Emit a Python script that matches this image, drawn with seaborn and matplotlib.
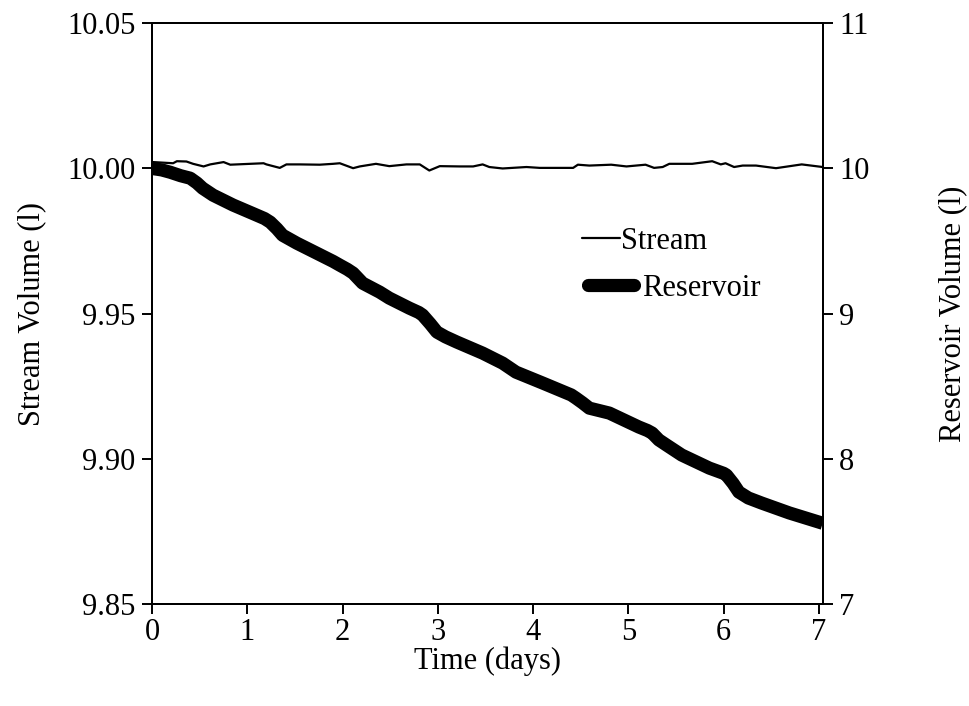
import matplotlib
matplotlib.use("Agg")
import matplotlib.pyplot as plt
import seaborn as sns
import pandas as pd
from matplotlib.lines import Line2D

# ---- data ----
stream_time = [0.00, 0.01, 0.22, 0.26, 0.36, 0.43, 0.54, 0.61, 0.75, 0.82, 1.03, 1.17, 1.20,
               1.34, 1.41, 1.55, 1.76, 1.90, 1.97, 2.11, 2.18, 2.35, 2.49, 2.67, 2.81, 2.91,
               3.02, 3.23, 3.37, 3.47, 3.54, 3.68, 3.93, 4.07, 4.42, 4.47, 4.59, 4.82, 4.98,
               5.18, 5.27, 5.36, 5.43, 5.67, 5.88, 5.97, 6.02, 6.11, 6.20, 6.34, 6.55, 6.82, 7.04]
stream_vol = [10.0022, 10.0022, 10.0018, 10.0025, 10.0024, 10.0016, 10.0007, 10.0014, 10.0022,
              10.0013, 10.0016, 10.0018, 10.0014, 10.0002, 10.0014, 10.0014, 10.0013, 10.0016,
              10.0018, 10.0001, 10.0007, 10.0016, 10.0008, 10.0014, 10.0014, 9.9993, 10.0008,
              10.0007, 10.0007, 10.0014, 10.0005, 10.0000, 10.0005, 10.0002, 10.0002, 10.0013,
              10.0010, 10.0013, 10.0007, 10.0013, 10.0002, 10.0005, 10.0016, 10.0016, 10.0025,
              10.0014, 10.0018, 10.0005, 10.0010, 10.0010, 10.0001, 10.0014, 10.0005]

res_time = [0.00, 0.10, 0.19, 0.30, 0.40, 0.47, 0.53, 0.64, 0.85, 1.06, 1.18, 1.24, 1.31, 1.37,
            1.52, 1.73, 1.90, 1.97, 2.05, 2.11, 2.21, 2.39, 2.49, 2.70, 2.80, 2.84, 2.92, 2.99,
            3.08, 3.20, 3.47, 3.68, 3.82, 4.10, 4.40, 4.45, 4.52, 4.59, 4.80, 5.11, 5.20, 5.25,
            5.32, 5.40, 5.56, 5.85, 6.00, 6.03, 6.10, 6.16, 6.26, 6.40, 6.69, 7.04]
res_vol = [10.00, 9.990, 9.974, 9.950, 9.933, 9.900, 9.864, 9.816, 9.748, 9.689, 9.655, 9.630,
           9.585, 9.540, 9.485, 9.416, 9.360, 9.334, 9.305, 9.279, 9.210, 9.148, 9.107, 9.038,
           9.008, 8.990, 8.930, 8.873, 8.840, 8.804, 8.728, 8.659, 8.597, 8.522, 8.440, 8.418,
           8.385, 8.349, 8.315, 8.219, 8.195, 8.177, 8.130, 8.095, 8.026, 7.936, 7.900, 7.888,
           7.830, 7.771, 7.730, 7.695, 7.627, 7.556]

x_ticks = [0, 1, 2, 3, 4, 5, 6, 7]
left_ticks = [9.85, 9.90, 9.95, 10.00, 10.05]
right_ticks = [7, 8, 9, 10, 11]

FS = 22

sns.set_theme(style="ticks")
plt.rcParams['font.family'] = ['Liberation Serif', 'DejaVu Serif']
plt.rcParams['font.size'] = FS
plt.rcParams['text.color'] = 'black'
plt.rcParams['axes.labelcolor'] = 'black'
plt.rcParams['xtick.color'] = 'black'
plt.rcParams['ytick.color'] = 'black'

fig = plt.figure(figsize=(9.69, 7.06), dpi=100)
ax = fig.add_axes([0.157, 0.1445, 0.692, 0.8225])
ax2 = ax.twinx()

df_s = pd.DataFrame({"t": stream_time, "v": stream_vol})
df_r = pd.DataFrame({"t": res_time, "v": res_vol})

sns.lineplot(data=df_s, x="t", y="v", ax=ax, color="black", linewidth=1.6,
             solid_joinstyle="round")
sns.lineplot(data=df_r, x="t", y="v", ax=ax2, color="black", linewidth=9.5,
             solid_capstyle="butt", solid_joinstyle="round")

ax.set_xlim(0, 7.04)
ax.set_ylim(9.85, 10.05)
ax2.set_ylim(7, 11)
ax.set_xticks(x_ticks)
ax.set_yticks(left_ticks)
ax.set_yticklabels([f"{v:.2f}" for v in left_ticks])
ax2.set_yticks(right_ticks)
ax2.set_yticklabels([str(v) for v in right_ticks])

for a in (ax, ax2):
    for s in a.spines.values():
        s.set_linewidth(1.4)
        s.set_color("black")
    a.tick_params(direction="out", length=7, width=1.4, labelsize=FS, pad=5)
ax.tick_params(axis="x", pad=3)

ax.set_xlabel("Time (days)", fontsize=FS, labelpad=0)
ax.set_ylabel("Stream Volume (l)", fontsize=FS, labelpad=15)
ax2.set_ylabel("Reservoir Volume (l)", fontsize=FS, labelpad=49)

leg1 = ax.legend([Line2D([0], [0], color="black", lw=1.6)], ["Stream"],
                 loc="center left", bbox_to_anchor=(0.641, 0.625), frameon=False,
                 handlelength=1.25, handletextpad=0.02, fontsize=FS, borderpad=0,
                 borderaxespad=0)
ax.add_artist(leg1)
ax.legend([Line2D([0], [0], color="black", lw=9.5, solid_capstyle="round")], ["Reservoir"],
          loc="center left", bbox_to_anchor=(0.650, 0.544), frameon=False,
          handlelength=1.5, handletextpad=0.26, fontsize=FS, borderpad=0,
          borderaxespad=0)

fig.savefig("out.png", dpi=100)
